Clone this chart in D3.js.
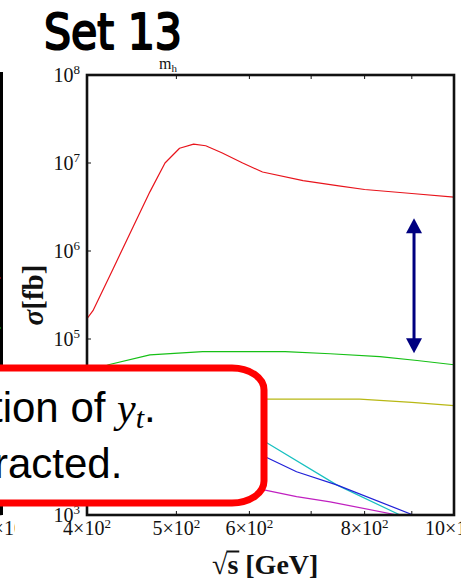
<!DOCTYPE html>
<html>
<head>
<meta charset="utf-8">
<script src="https://cdn.jsdelivr.net/npm/d3@7"></script>
<style>
  html, body { margin: 0; padding: 0; background: #fff; }
  svg { display: block; }
</style>
</head>
<body>
<svg id="chart" width="461" height="586"></svg>
<script>
// Cross section sigma [fb] versus sqrt(s) [GeV], one polyline per channel
const redEnergy   = [400, 406, 427, 449, 468, 486, 504, 522, 538, 560, 590, 620, 686, 750, 800, 900, 1000];
const redSigma    = [1.7e5, 2.1e5, 6.3e5, 1.9e6, 4.7e6, 1.0e7, 1.47e7, 1.64e7, 1.57e7, 1.31e7, 1.0e7, 7.9e6, 6.3e6, 5.5e6, 5.0e6, 4.5e6, 4.1e6];

const greenEnergy = [400, 422, 468, 534, 600, 656, 734, 831, 912, 1000];
const greenSigma  = [4.0e4, 5.1e4, 6.6e4, 7.2e4, 7.2e4, 7.2e4, 6.8e4, 6.3e4, 5.7e4, 5.1e4];

const oliveEnergy = [400, 500, 624, 700, 790, 900, 1000];
const oliveSigma  = [1.9e4, 2.05e4, 2.07e4, 2.07e4, 2.07e4, 1.9e4, 1.75e4];

const cyanEnergy  = [400, 500, 624, 746, 874, 1000];
const cyanSigma   = [2.0e4, 1.4e4, 6.8e3, 2.2e3, 1.0e3, 5.2e2];

const blueEnergy  = [400, 500, 624, 675, 746, 903, 1000];
const blueSigma   = [1.2e4, 9.0e3, 4.6e3, 3.1e3, 2.2e3, 1.0e3, 6.6e2];

const magentaEnergy = [400, 500, 624, 675, 734, 868, 1000];
const magentaSigma  = [4.0e3, 3.0e3, 1.92e3, 1.62e3, 1.41e3, 1.0e3, 7.5e2];

// Axis ticks and labels (the 10^4 label sits under the callout box)
const xTickValues   = [500, 600, 700, 800, 900];
const xLabelValues  = [400, 500, 600, 800, 1000];
const xLabelMantissa = ["4", "5", "6", "8", "10"];
const yTickExponents  = [4, 5, 6, 7];
const yLabelExponents = [3, 5, 6, 7, 8];

// Double arrow marking the spread between channels
const arrowEnergy = 905;
const arrowSigma  = [6.9e4, 2.36e6];

const series = [
  { energy: redEnergy,     sigma: redSigma,     color: "#e8141c" },
  { energy: greenEnergy,   sigma: greenSigma,   color: "#16c016" },
  { energy: oliveEnergy,   sigma: oliveSigma,   color: "#b8b814" },
  { energy: cyanEnergy,    sigma: cyanSigma,    color: "#18c0c0" },
  { energy: blueEnergy,    sigma: blueSigma,    color: "#2020d8" },
  { energy: magentaEnergy, sigma: magentaSigma, color: "#c020c0" }
];

const svg = d3.select("#chart");
const x = d3.scaleLog().domain([400, 1000]).range([87, 454]);
const y = d3.scaleLog().domain([1e3, 1e8]).range([515, 75]);

const serif = "'Liberation Serif', 'Times New Roman', serif";
const sans  = "'Liberation Sans', Arial, sans-serif";

// Right edge of the neighbouring panel, cut off by the page edge
const leftClip = svg.append("clipPath").attr("id", "leftPanel");
leftClip.append("rect").attr("x", 0).attr("y", 0).attr("width", 15).attr("height", 586);
const leftPanel = svg.append("g").attr("clip-path", "url(#leftPanel)");
leftPanel.append("line").attr("x1", 1.5).attr("x2", 1.5).attr("y1", 72).attr("y2", 515)
  .attr("stroke", "#000").attr("stroke-width", 3);
leftPanel.append("line").attr("x1", -60).attr("x2", 1.5).attr("y1", 514).attr("y2", 514)
  .attr("stroke", "#000").attr("stroke-width", 2.5);
leftPanel.append("line").attr("x1", -8).attr("x2", 1).attr("y1", 278).attr("y2", 278)
  .attr("stroke", "#e8141c").attr("stroke-width", 1.2);
leftPanel.append("line").attr("x1", -8).attr("x2", 1).attr("y1", 328).attr("y2", 328)
  .attr("stroke", "#16c016").attr("stroke-width", 1.2);
const lp = leftPanel.append("text").attr("x", 1.5).attr("y", 535).attr("text-anchor", "middle")
  .attr("font-family", serif).attr("font-size", 20).attr("fill", "#111");
lp.append("tspan").text("10×10");
lp.append("tspan").attr("dy", -7).attr("font-size", 13).text("2");

// Plot area
const clip = svg.append("clipPath").attr("id", "plotArea");
clip.append("rect").attr("x", 87).attr("y", 75).attr("width", 367).attr("height", 440);

const line = d3.line().x(d => x(d[0])).y(d => y(d[1]));
const curves = svg.append("g").attr("clip-path", "url(#plotArea)");
series.forEach(s => {
  curves.append("path")
    .attr("d", line(s.energy.map((e, i) => [e, s.sigma[i]])))
    .attr("fill", "none").attr("stroke", s.color).attr("stroke-width", 1.2)
    .attr("stroke-linejoin", "round");
});

// Frame
svg.append("rect").attr("x", 87).attr("y", 75).attr("width", 367).attr("height", 440)
  .attr("fill", "none").attr("stroke", "#111").attr("stroke-width", 2.6);

// Ticks on bottom and top edges
const ticks = svg.append("g").attr("stroke", "#111").attr("stroke-width", 1);
xTickValues.forEach(v => {
  ticks.append("line").attr("x1", x(v)).attr("x2", x(v)).attr("y1", 515).attr("y2", 511);
  ticks.append("line").attr("x1", x(v)).attr("x2", x(v)).attr("y1", 75).attr("y2", 79);
});
yTickExponents.forEach(e => {
  ticks.append("line").attr("x1", 87).attr("x2", 91).attr("y1", y(Math.pow(10, e))).attr("y2", y(Math.pow(10, e)));
});

// Tick labels
xLabelValues.forEach((v, i) => {
  const t = svg.append("text").attr("x", x(v)).attr("y", 535).attr("text-anchor", "middle")
    .attr("font-family", serif).attr("font-size", 20).attr("fill", "#111");
  t.append("tspan").text(xLabelMantissa[i] + "×10");
  t.append("tspan").attr("dy", -7).attr("font-size", 13).text("2");
});
yLabelExponents.forEach(e => {
  const t = svg.append("text").attr("x", 80).attr("y", y(Math.pow(10, e)) + 6.5).attr("text-anchor", "end")
    .attr("font-family", serif).attr("font-size", 20).attr("fill", "#111");
  t.append("tspan").text("10");
  t.append("tspan").attr("dy", -8).attr("font-size", 13).text(String(e));
});

// Double arrow
const ax = x(arrowEnergy), ayTop = y(arrowSigma[1]), ayBot = y(arrowSigma[0]);
const navy = "#000080";
svg.append("line").attr("x1", ax).attr("x2", ax).attr("y1", ayTop + 12).attr("y2", ayBot - 12)
  .attr("stroke", navy).attr("stroke-width", 3);
svg.append("path").attr("d", `M${ax},${ayTop} L${ax - 8},${ayTop + 15} L${ax + 8},${ayTop + 15} Z`).attr("fill", navy);
svg.append("path").attr("d", `M${ax},${ayBot} L${ax - 8},${ayBot - 15} L${ax + 8},${ayBot - 15} Z`).attr("fill", navy);

// Axis titles
const yTitle = svg.append("text").attr("transform", "translate(43,295) rotate(-90)")
  .attr("text-anchor", "middle").attr("font-family", serif).attr("font-size", 29)
  .attr("font-weight", "bold").attr("fill", "#111");
yTitle.append("tspan").attr("font-style", "italic").text("σ");
yTitle.append("tspan").text("[fb]");

const xTitle = svg.append("text").attr("x", 212).attr("y", 574)
  .attr("font-family", serif).attr("font-size", 28).attr("font-weight", "bold").attr("fill", "#111");
xTitle.append("tspan").text("√");
xTitle.append("tspan").text("s");
xTitle.append("tspan").text(" [GeV]");
{
  const n = xTitle.node();
  const e1 = n.getEndPositionOfChar(1);
  const rb = n.getExtentOfChar(0);
  svg.append("line").attr("x1", rb.x + rb.width - 1).attr("x2", e1.x + 1)
    .attr("y1", rb.y + 2.5).attr("y2", rb.y + 2.5)
    .attr("stroke", "#111").attr("stroke-width", 2);
}

// Title
svg.append("text").attr("x", 44).attr("y", 49)
  .attr("font-family", "'DejaVu Sans', sans-serif").attr("font-size", 50)
  .attr("textLength", 138).attr("lengthAdjust", "spacingAndGlyphs")
  .attr("fill", "#000").attr("stroke", "#000").attr("stroke-width", 2.2).attr("stroke-linejoin", "round")
  .text("Set 13");
const mh = svg.append("text").attr("x", 159).attr("y", 69).attr("font-family", serif)
  .attr("font-size", 16).attr("fill", "#111");
mh.append("tspan").text("m");
mh.append("tspan").attr("dy", 3).attr("font-size", 11).text("h");

// Callout box
svg.append("rect").attr("x", -60).attr("y", 368).attr("width", 324).attr("height", 135)
  .attr("rx", 32).attr("ry", 22)
  .attr("fill", "#fff").attr("stroke", "#ff0000").attr("stroke-width", 7);

const l1 = svg.append("text").attr("x", -9).attr("y", 422).attr("font-family", sans)
  .attr("font-size", 42).attr("fill", "#000");
l1.append("tspan").text("tion of ");
l1.append("tspan").attr("font-family", serif).attr("font-style", "italic").text("y");
l1.append("tspan").attr("font-family", serif).attr("font-style", "italic").attr("font-size", 30).attr("dy", 6).text("t");
l1.append("tspan").attr("dy", -6).text(".");

svg.append("text").attr("x", -6).attr("y", 478).attr("font-family", sans)
  .attr("font-size", 42).attr("fill", "#000").text("racted.");
</script>
</body>
</html>
